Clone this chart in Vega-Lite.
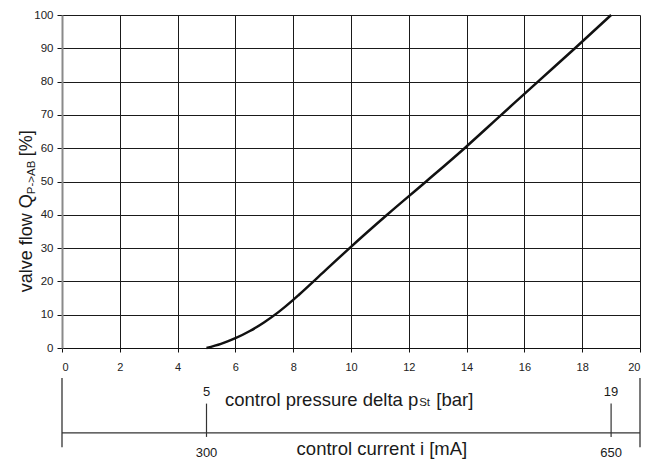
{
  "$schema": "https://vega.github.io/schema/vega-lite/v6.json",
  "width": 578,
  "height": 333,
  "autosize": {"type": "none"},
  "padding": {"left": 62, "top": 15, "right": 8, "bottom": 116},
  "background": "white",
  "resolve": {"axis": {"x": "independent", "y": "independent"}},
  "config": {
    "view": {"stroke": null},
    "font": "Liberation Sans",
    "text": {"font": "Liberation Sans", "color": "#1a1a1a"},
    "axis": {
      "labelColor": "#222222", "labelFont": "Liberation Sans",
      "tickColor": "#111111", "grid": true, "gridColor": "#1a1a1a", "gridWidth": 1, "gridOpacity": 1,
      "labelOverlap": false
    }
  },
  "datasets": {
    "curve": [
      {"p": 5.0, "q": 0},
      {"p": 5.5, "q": 1.23},
      {"p": 6.0, "q": 2.94},
      {"p": 6.5, "q": 5.1},
      {"p": 7.0, "q": 7.75},
      {"p": 7.5, "q": 10.85},
      {"p": 8.0, "q": 14.45},
      {"p": 8.2, "q": 16.0},
      {"p": 9.0, "q": 22.4},
      {"p": 9.95, "q": 30},
      {"p": 11.25, "q": 40},
      {"p": 12.6, "q": 50},
      {"p": 13.93, "q": 60},
      {"p": 15.2, "q": 70},
      {"p": 16.47, "q": 80},
      {"p": 17.75, "q": 90},
      {"p": 19.0, "q": 100}
    ],
    "current": [
      {"p": 5, "mA": 300},
      {"p": 19, "mA": 650}
    ],
    "frame": [
      {"p": 0},
      {"p": 20}
    ]
  },
  "layer": [
    {
      "data": {"name": "curve"},
      "mark": {"type": "line", "color": "#111111", "strokeWidth": 2.5, "interpolate": "monotone", "clip": false},
      "encoding": {
        "x": {
          "field": "p", "type": "quantitative",
          "scale": {"domain": [0, 20], "nice": false, "zero": false},
          "axis": {"title": null, "values": [0, 2, 4, 6, 8, 10, 12, 14, 16, 18, 20],
                   "labelFontSize": 11, "tickSize": 4, "labelPadding": 9, "domainColor": "#111111", "domainWidth": 1}
        },
        "y": {
          "field": "q", "type": "quantitative",
          "scale": {"domain": [0, 100], "nice": false},
          "axis": {"title": null, "values": [0, 10, 20, 30, 40, 50, 60, 70, 80, 90, 100],
                   "labelFontSize": 11.5, "tickSize": 5, "labelPadding": 4, "domainColor": "#8a8a8a", "domainWidth": 2}
        }
      }
    },
    {
      "data": {"name": "frame"},
      "mark": {"type": "rule", "color": "#333333", "strokeWidth": 1.3, "clip": false},
      "encoding": {
        "x": {"field": "p", "type": "quantitative", "axis": null},
        "y": {"datum": -9, "type": "quantitative", "axis": null},
        "y2": {"datum": -29.8}
      }
    },
    {
      "data": {"values": [{}]},
      "mark": {"type": "rule", "color": "#333333", "strokeWidth": 1.2, "clip": false},
      "encoding": {
        "x": {"datum": 0, "type": "quantitative", "axis": null},
        "x2": {"datum": 20},
        "y": {"datum": -25.5, "type": "quantitative", "axis": null}
      }
    },
    {
      "data": {"name": "current"},
      "mark": {"type": "rule", "color": "#333333", "strokeWidth": 1.2, "clip": false},
      "encoding": {
        "x": {"field": "p", "type": "quantitative", "axis": null},
        "y": {"datum": -16.7, "type": "quantitative", "axis": null},
        "y2": {"datum": -26.7}
      }
    },
    {
      "data": {"name": "current"},
      "mark": {"type": "text", "fontSize": 13, "align": "center", "baseline": "alphabetic", "clip": false},
      "encoding": {
        "x": {"field": "p", "type": "quantitative", "axis": null},
        "y": {"datum": -14.5, "type": "quantitative", "axis": null},
        "text": {"field": "p", "type": "quantitative"}
      }
    },
    {
      "data": {"name": "current"},
      "mark": {"type": "text", "fontSize": 13, "align": "center", "baseline": "alphabetic", "clip": false},
      "encoding": {
        "x": {"field": "p", "type": "quantitative", "axis": null},
        "y": {"datum": -32.7, "type": "quantitative", "axis": null},
        "text": {"field": "mA", "type": "quantitative"}
      }
    },
    {
      "data": {"values": [{}]},
      "mark": {"type": "text", "text": "control pressure delta p", "fontSize": 18.5, "align": "right", "baseline": "alphabetic", "clip": false},
      "encoding": {
        "x": {"datum": 12.33, "type": "quantitative", "axis": null},
        "y": {"datum": -17.5, "type": "quantitative", "axis": null}
      }
    },
    {
      "data": {"values": [{}]},
      "mark": {"type": "text", "text": "St", "fontSize": 11.5, "align": "left", "baseline": "alphabetic", "clip": false},
      "encoding": {
        "x": {"datum": 12.36, "type": "quantitative", "axis": null},
        "y": {"datum": -17.4, "type": "quantitative", "axis": null}
      }
    },
    {
      "data": {"values": [{}]},
      "mark": {"type": "text", "text": "[bar]", "fontSize": 18.5, "align": "left", "baseline": "alphabetic", "clip": false},
      "encoding": {
        "x": {"datum": 12.95, "type": "quantitative", "axis": null},
        "y": {"datum": -17.5, "type": "quantitative", "axis": null}
      }
    },
    {
      "data": {"values": [{}]},
      "mark": {"type": "text", "text": "control current i [mA]", "fontSize": 18.5, "align": "center", "baseline": "alphabetic", "clip": false},
      "encoding": {
        "x": {"datum": 11.07, "type": "quantitative", "axis": null},
        "y": {"datum": -32.2, "type": "quantitative", "axis": null}
      }
    },
    {
      "data": {"values": [{}]},
      "mark": {"type": "text", "text": "valve flow Q", "fontSize": 18, "angle": 270, "align": "left", "baseline": "alphabetic", "clip": false},
      "encoding": {
        "x": {"datum": -1.03, "type": "quantitative", "axis": null},
        "y": {"datum": 16.75, "type": "quantitative", "axis": null}
      }
    },
    {
      "data": {"values": [{}]},
      "mark": {"type": "text", "text": "P->AB", "fontSize": 11.5, "angle": 270, "align": "left", "baseline": "alphabetic", "clip": false},
      "encoding": {
        "x": {"datum": -0.92, "type": "quantitative", "axis": null},
        "y": {"datum": 46.2, "type": "quantitative", "axis": null}
      }
    },
    {
      "data": {"values": [{}]},
      "mark": {"type": "text", "text": "[%]", "fontSize": 18, "angle": 270, "align": "left", "baseline": "alphabetic", "clip": false},
      "encoding": {
        "x": {"datum": -1.03, "type": "quantitative", "axis": null},
        "y": {"datum": 57.6, "type": "quantitative", "axis": null}
      }
    }
  ]
}
